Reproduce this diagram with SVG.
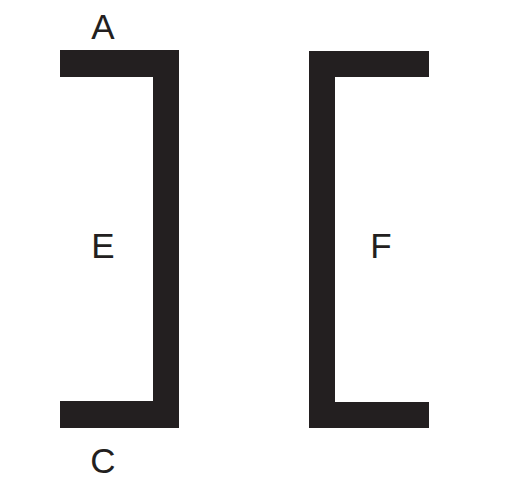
<svg xmlns="http://www.w3.org/2000/svg" width="506" height="502" viewBox="0 0 506 502">
<style>
.bar{fill:#231f20}
.lbl{font-family:"Liberation Sans",Arial,sans-serif;font-size:35px;fill:#231f20;text-anchor:middle}
</style>
<rect width="506" height="502" fill="#ffffff"/>
<g id="bracketE">
<path class="bar" d="M60,50 H179 V428 H60 V401 H153 V77 H60 Z"/>
</g>
<g id="bracketF">
<path class="bar" d="M429,51 H309 V428 H429 V402 H335 V77 H429 Z"/>
</g>
<g id="labels">
<text id="A" class="lbl" x="103" y="39">A</text>
<text id="E" class="lbl" x="103" y="258">E</text>
<text id="C" class="lbl" x="103" y="473">C</text>
<text id="F" class="lbl" x="381" y="258">F</text>
</g>
</svg>
